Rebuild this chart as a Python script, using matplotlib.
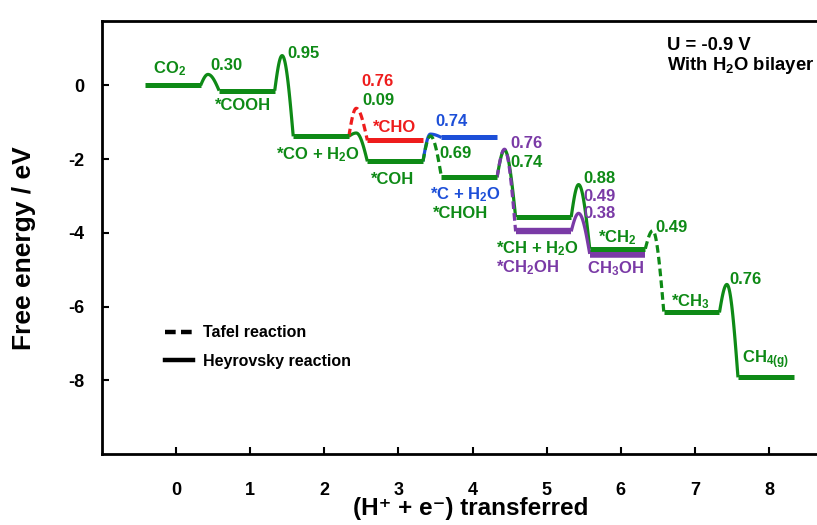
import numpy as np
import matplotlib
matplotlib.use("Agg")
import matplotlib.pyplot as plt
from matplotlib.lines import Line2D

plt.rcParams["font.family"] = ["Liberation Sans", "DejaVu Sans"]
plt.rcParams["font.weight"] = "bold"
plt.rcParams["mathtext.fontset"] = "custom"
plt.rcParams["mathtext.rm"] = "Liberation Sans:bold"
plt.rcParams["mathtext.bf"] = "Liberation Sans:bold"
plt.rcParams["mathtext.it"] = "Liberation Sans:bold"
plt.rcParams["mathtext.default"] = "rm"

GREEN = "#0e8a16"
RED = "#ee1c1c"
BLUE = "#1d4fd8"
PURPLE = "#7a3aa6"

# Intermediates: electron-transfer step, free energy (eV), colour
level_step = [0, 1, 2, 3, 3, 4, 4, 5, 5, 6, 6, 7, 8]
level_energy = [0.00, -0.14, -1.38, -1.49, -2.06, -1.41, -2.49,
                -3.57, -3.96, -4.43, -4.57, -6.16, -7.92]
level_color = [GREEN, GREEN, GREEN, RED, GREEN, BLUE, GREEN,
               GREEN, PURPLE, GREEN, PURPLE, GREEN, GREEN]
level_lw = [3.6, 3.6, 3.6, 3.6, 3.6, 3.6, 3.6, 3.6, 4.6, 3.6, 5.4, 3.6, 3.6]

# Elementary steps: from level, to level, barrier (eV), colour, style
trans_from = [0, 1, 4, 4, 2, 2, 6, 6, 7, 8, 9, 11]
trans_to = [1, 2, 6, 5, 4, 3, 7, 8, 9, 10, 11, 12]
trans_barrier = [0.30, 0.95, 0.69, 0.74, 0.09, 0.76, 0.74, 0.76, 0.88, 0.49, 0.49, 0.76]
trans_color = [GREEN, GREEN, GREEN, BLUE, GREEN, RED, GREEN, PURPLE, GREEN, PURPLE, GREEN, GREEN]
trans_style = ["-", "-", "--", "-", "-", "--", "-", "--", "-", "-", "--", "-"]

x_ticks = [0, 1, 2, 3, 4, 5, 6, 7, 8]
y_ticks = [0, -2, -4, -6, -8]

LEFT, RIGHT = -0.42, 0.33   # plateau extent around each step
PEAK_OFF = 0.10             # peak position after plateau end
DASH = (0, (2.4, 1.3))

XMIN, XMAX = -1, 8.646
YMIN, YMAX = -10, 1.75
AX_L, AX_B, AX_T = 102, 454, 21   # axes box edges in pixels

fig = plt.figure(figsize=(8.17, 5.25), dpi=100)
ax = fig.add_axes([AX_L / 817, 1 - AX_B / 525, 1 - AX_L / 817, (AX_B - AX_T) / 525])


def barrier_curve(x0, e0, ep, x1, e1, n=60):
    xp = x0 + PEAK_OFF
    t = np.linspace(0, 1, n)
    xr = x0 + (xp - x0) * t
    yr = e0 + (ep - e0) * np.sin(np.pi / 2 * t)
    xf = xp + (x1 - xp) * t
    yf = ep + (e1 - ep) * (1 - np.cos(np.pi / 2 * t))
    return np.concatenate([xr, xf[1:]]), np.concatenate([yr, yf[1:]])


# transition curves
for a, b, bar, c, ls in zip(trans_from, trans_to, trans_barrier, trans_color, trans_style):
    x0 = level_step[a] + RIGHT
    x1 = level_step[b] + LEFT
    e0 = level_energy[a]
    e1 = level_energy[b]
    xs, ys = barrier_curve(x0, e0, e0 + bar, x1, e1)
    if ls == "--":
        ax.plot(xs, ys, color=c, lw=2.3, linestyle=DASH, zorder=3)
    else:
        ax.plot(xs, ys, color=c, lw=2.3, solid_capstyle="butt", zorder=2)

# plateaus
order = sorted(range(len(level_step)), key=lambda i: -level_lw[i])
for i in order:
    s = level_step[i]
    ax.plot([s + LEFT, s + RIGHT], [level_energy[i]] * 2, color=level_color[i],
            lw=level_lw[i], solid_capstyle="butt", zorder=4)


# label anchors given as pixel positions inside the axes box
def px(xp, yp):
    x = XMIN + (xp - AX_L) / (817 - AX_L) * (XMAX - XMIN)
    y = YMAX - (yp - AX_T) / (AX_B - AX_T) * (YMAX - YMIN)
    return x, y


labels = [
    ("CO$_2$", 170, 69, GREEN),
    ("0.30", 226, 66, GREEN),
    ("*COOH", 243, 106, GREEN),
    ("0.95", 304, 54, GREEN),
    ("*CO + H$_2$O", 318, 155, GREEN),
    ("0.76", 378, 82, RED),
    ("0.09", 378, 101, GREEN),
    ("*CHO", 395, 128, RED),
    ("*COH", 393, 180, GREEN),
    ("0.74", 452, 122, BLUE),
    ("0.69", 456, 154, GREEN),
    ("*C + H$_2$O", 465, 195, BLUE),
    ("*CHOH", 461, 214, GREEN),
    ("0.76", 527, 144, PURPLE),
    ("0.74", 527, 163, GREEN),
    ("0.88", 600, 179, GREEN),
    ("0.49", 600, 197, PURPLE),
    ("0.38", 600, 213, PURPLE),
    ("*CH + H$_2$O", 537, 249, GREEN),
    ("*CH$_2$OH", 528, 268, PURPLE),
    ("*CH$_2$", 617, 238, GREEN),
    ("CH$_3$OH", 615, 269, PURPLE),
    ("0.49", 672, 228, GREEN),
    ("*CH$_3$", 690, 302, GREEN),
    ("0.76", 746, 279, GREEN),
    ("CH$_{4(g)}$", 766, 360, GREEN),
]
for txt, xp_, yp_, c in labels:
    x, y = px(xp_, yp_)
    ax.text(x, y, txt, color=c, fontsize=12, fontweight="bold",
            ha="center", va="center", zorder=6)

x, y = px(667, 46)
ax.text(x, y, "U = -0.9 V", fontsize=13.3, fontweight="bold", ha="left", va="center")
x, y = px(667, 66)
ax.text(x, y, "With H$_2$O bilayer", fontsize=13.3, fontweight="bold", ha="left", va="center")

handles = [Line2D([], [], color="black", lw=3.2, linestyle=(0, (2.4, 1.2))),
           Line2D([], [], color="black", lw=3.2)]
lx, ly = px(165, 347)
ax.legend(handles, ["Tafel reaction", "Heyrovsky reaction"], loc="center left",
          bbox_to_anchor=(lx, ly), bbox_transform=ax.transData, frameon=False,
          handlelength=1.75, handletextpad=0.65, labelspacing=0.85,
          borderpad=0, borderaxespad=0,
          prop={"weight": "bold", "size": 11.5})

ax.set_xlim(XMIN, XMAX)
ax.set_ylim(YMIN, YMAX)
ax.set_xticks(x_ticks)
ax.set_yticks(y_ticks)
ax.set_xticklabels([str(v) for v in x_ticks])
ax.set_yticklabels([str(v) for v in y_ticks])
ax.tick_params(direction="in", length=5, width=1.5, labelsize=13)
ax.tick_params(axis="x", pad=20)
ax.tick_params(axis="y", pad=13)
for lab in ax.get_xticklabels() + ax.get_yticklabels():
    lab.set_fontweight("bold")
ax.spines["right"].set_visible(False)
for s in ["left", "bottom", "top"]:
    ax.spines[s].set_linewidth(2)

ax.set_ylabel("Free energy / eV", fontsize=19, fontweight="bold")
ax.yaxis.set_label_coords(-0.093, 0.475)
ax.set_xlabel("(H\u207a + e\u207b) transferred", fontsize=17.5, fontweight="bold")
ax.xaxis.set_label_coords(0.515, -0.1)

fig.savefig("out.png", dpi=100)
